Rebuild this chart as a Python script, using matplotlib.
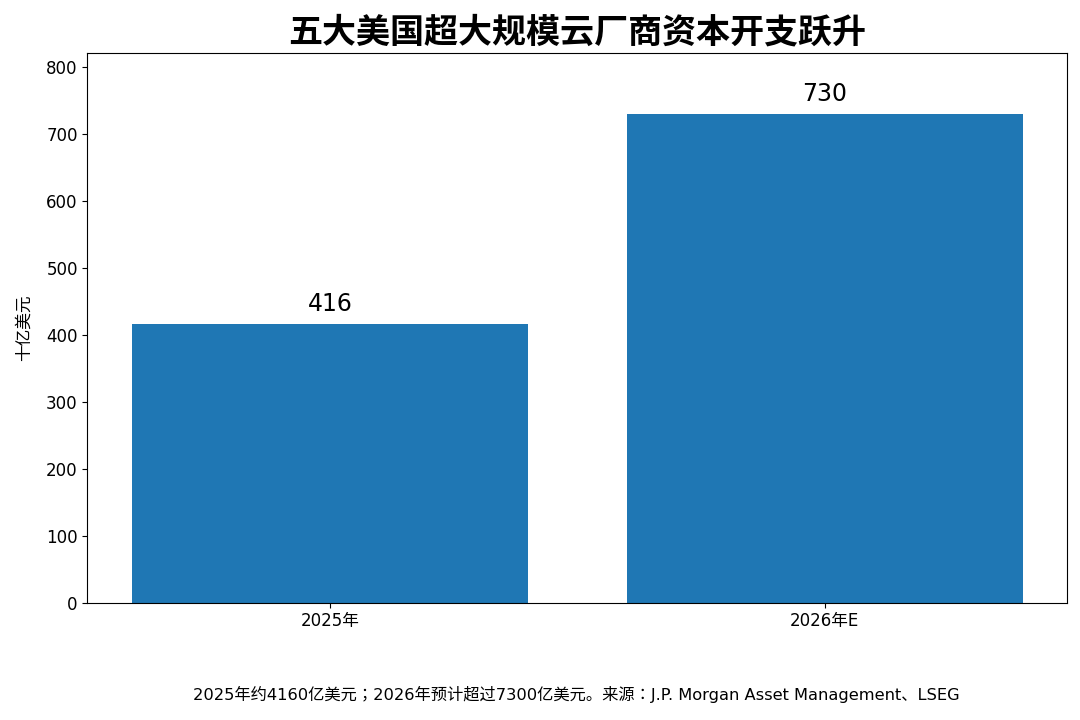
import matplotlib
matplotlib.use('Agg')
import matplotlib.pyplot as plt

# Chart data
years = ['2025年', '2026年E']
capex = [416, 730]

plt.rcParams['font.family'] = ['DejaVu Sans', 'Noto Sans CJK JP']

fig, ax = plt.subplots(figsize=(10.8, 7.2), dpi=100)
fig.subplots_adjust(left=0.081, right=0.988, top=0.926, bottom=0.163)

bars = ax.bar(years, capex, width=0.8, color='#1f77b4')
for bar, val in zip(bars, capex):
    ax.text(bar.get_x() + bar.get_width() / 2, val + 12, f'{val}',
            ha='center', va='bottom', fontsize=17)

ax.set_ylim(0, 820)
ax.set_ylabel('十亿美元', fontsize=12, labelpad=10)
ax.tick_params(axis='both', labelsize=12)
ax.set_title('五大美国超大规模云厂商资本开支跃升', fontsize=24.5, fontweight='bold', pad=8,
             family=['Noto Sans CJK JP'])

fig.text(0.534, 0.035, '2025年约4160亿美元；2026年预计超过7300亿美元。来源：J.P. Morgan Asset Management、LSEG',
         ha='center', va='center', fontsize=11.7)

fig.savefig('out.png', dpi=100)
